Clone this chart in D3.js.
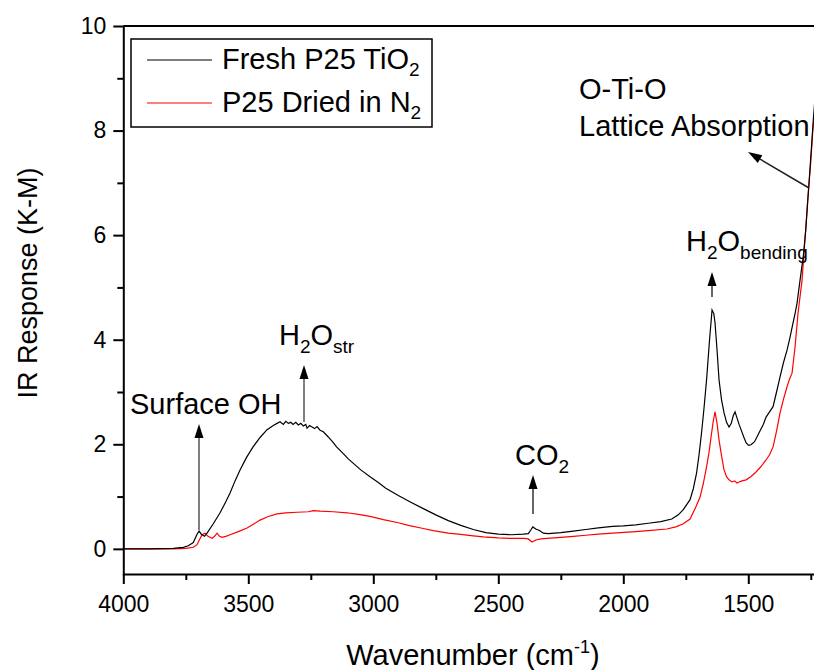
<!DOCTYPE html>
<html><head><meta charset="utf-8">
<script src="https://cdn.jsdelivr.net/npm/d3@7"></script>
<style>body{margin:0;background:#fff}svg{display:block}text{font-family:"Liberation Sans",Arial,sans-serif;fill:#000}</style>
</head><body><svg id="c" width="814" height="670"></svg>
<script>
// wavenumber (cm-1), K-M response
const freshWn = [4000,3900,3800,3760,3740,3720,3705,3697,3688,3675,3665,3640,3613,3590,3573,3553,3533,3507,3481,3453,3425,3400,3385,3373,3360,3350,3340,3330,3321,3310,3300,3290,3280,3270,3265,3255,3245,3235,3225,3213,3200,3180,3160,3147,3120,3100,3081,3050,3013,2980,2950,2900,2850,2800,2750,2700,2650,2600,2550,2500,2450,2400,2380,2370,2362,2350,2335,2320,2300,2250,2200,2150,2100,2043,2000,1950,1900,1850,1806,1780,1760,1733,1720,1707,1697,1687,1677,1667,1655,1645,1638,1633,1625,1617,1607,1597,1587,1577,1568,1560,1553,1545,1537,1529,1519,1509,1499,1489,1475,1457,1440,1429,1415,1401,1387,1373,1360,1345,1333,1321,1313,1305,1293,1280,1270,1260,1250,1240,1232];
const freshKM = [0,0,0.01,0.03,0.06,0.12,0.28,0.34,0.28,0.24,0.30,0.48,0.69,0.90,1.07,1.30,1.51,1.75,1.95,2.13,2.28,2.36,2.40,2.43,2.38,2.44,2.40,2.42,2.38,2.42,2.37,2.40,2.35,2.38,2.31,2.36,2.33,2.30,2.34,2.27,2.24,2.14,2.03,1.95,1.82,1.72,1.64,1.51,1.38,1.27,1.16,1.02,0.89,0.77,0.65,0.54,0.45,0.37,0.31,0.28,0.27,0.28,0.29,0.36,0.42,0.38,0.35,0.30,0.29,0.31,0.34,0.37,0.40,0.43,0.44,0.46,0.49,0.52,0.57,0.65,0.75,0.94,1.15,1.45,1.80,2.22,2.70,3.23,4.00,4.57,4.50,4.32,3.80,3.23,2.85,2.60,2.42,2.33,2.40,2.55,2.62,2.50,2.38,2.28,2.15,2.03,1.98,1.99,2.05,2.22,2.38,2.52,2.62,2.72,3.00,3.29,3.55,3.80,4.05,4.32,4.50,4.70,5.14,5.6,6.1,6.8,7.5,8.2,8.7];
const driedWn = [4000,3900,3800,3750,3720,3705,3695,3685,3673,3661,3645,3635,3625,3615,3605,3590,3573,3540,3505,3480,3453,3420,3385,3350,3305,3260,3240,3213,3160,3105,3060,3013,2960,2900,2860,2800,2760,2700,2660,2600,2560,2500,2450,2400,2380,2365,2350,2330,2305,2250,2200,2150,2100,2013,1950,1900,1826,1790,1760,1733,1710,1693,1680,1667,1657,1649,1640,1633,1625,1617,1607,1597,1587,1577,1565,1555,1545,1537,1525,1509,1490,1469,1450,1429,1415,1401,1387,1373,1360,1345,1335,1325,1313,1301,1285,1275,1262,1250,1242,1232];
const driedKM = [0,0,0,0.01,0.03,0.08,0.18,0.27,0.30,0.24,0.20,0.24,0.30,0.24,0.22,0.24,0.27,0.33,0.40,0.47,0.55,0.62,0.67,0.69,0.70,0.71,0.73,0.72,0.71,0.69,0.66,0.62,0.56,0.50,0.45,0.39,0.35,0.30,0.28,0.25,0.23,0.21,0.20,0.20,0.19,0.13,0.17,0.19,0.20,0.22,0.24,0.26,0.28,0.31,0.33,0.35,0.38,0.42,0.48,0.57,0.80,0.99,1.25,1.57,1.85,2.14,2.45,2.62,2.40,2.08,1.78,1.51,1.38,1.32,1.28,1.30,1.26,1.28,1.30,1.32,1.38,1.47,1.57,1.70,1.80,1.95,2.25,2.60,2.85,3.10,3.25,3.36,3.86,4.51,5.14,5.8,6.7,7.4,8.0,8.5];
const xMajor = [4000,3500,3000,2500,2000,1500];
const xMinor = [3750,3250,2750,2250,1750,1250];
const yMajor = [0,2,4,6,8,10];
const yMinor = [1,3,5,7,9];

const svg = d3.select("#c");
const L = 123.3, R = 823.3, T = 26, B = 575;
const x = d3.scaleLinear().domain([4000,1200]).range([L,R]);
const y = d3.scaleLinear().domain([-0.5,10]).range([B,T]);

svg.append("clipPath").attr("id","clip").append("rect").attr("x",L).attr("y",T).attr("width",R-L).attr("height",B-T);

const line = d3.line().x(d=>x(d[0])).y(d=>y(d[1]));
svg.append("path").datum(driedWn.map((w,i)=>[w,driedKM[i]])).attr("d",line).attr("fill","none").attr("stroke","#ff0000").attr("stroke-width",1.2).attr("clip-path","url(#clip)");
svg.append("path").datum(freshWn.map((w,i)=>[w,freshKM[i]])).attr("d",line).attr("fill","none").attr("stroke","#000").attr("stroke-width",1.2).attr("clip-path","url(#clip)");

// axes
svg.append("g").attr("transform",`translate(0,${B-1})`)
  .call(d3.axisBottom(x).tickValues(xMajor).tickSize(10).tickPadding(12).tickSizeOuter(0).tickFormat(d3.format("d")));
svg.append("g").attr("transform",`translate(0,${B-1})`)
  .call(d3.axisBottom(x).tickValues(xMinor).tickSize(6).tickSizeOuter(0).tickFormat(""))
  .select(".domain").remove();
svg.append("g").attr("transform",`translate(${L},0)`)
  .call(d3.axisLeft(y).tickValues(yMajor).tickSize(10).tickPadding(7).tickSizeOuter(0));
svg.append("g").attr("transform",`translate(${L},0)`)
  .call(d3.axisLeft(y).tickValues(yMinor).tickSize(6).tickSizeOuter(0).tickFormat(""))
  .select(".domain").remove();
svg.selectAll(".tick line").attr("stroke","#000").attr("stroke-width",2);
svg.selectAll(".domain").attr("stroke","#000").attr("stroke-width",2);
svg.selectAll(".tick text").attr("font-size",23).attr("font-family","Liberation Sans, Arial, sans-serif");
svg.append("line").attr("x1",L).attr("x2",R).attr("y1",T).attr("y2",T).attr("stroke","#000").attr("stroke-width",2);

// axis titles
const xt = svg.append("text").attr("x",473).attr("y",665).attr("text-anchor","middle").attr("font-size",29);
xt.append("tspan").text("Wavenumber (cm");
xt.append("tspan").attr("font-size",18).attr("dy",-12).text("-1");
xt.append("tspan").attr("dy",12).text(")");
svg.append("text").attr("transform","translate(37,283) rotate(-90)").attr("text-anchor","middle").attr("font-size",27).text("IR Response (K-M)");

// legend
svg.append("rect").attr("x",131).attr("y",39).attr("width",301).attr("height",88).attr("fill","#fff").attr("stroke","#000").attr("stroke-width",1.5);
svg.append("line").attr("x1",147).attr("x2",212).attr("y1",60).attr("y2",60).attr("stroke","#000").attr("stroke-width",1.2);
svg.append("line").attr("x1",147).attr("x2",212).attr("y1",103).attr("y2",103).attr("stroke","#ff0000").attr("stroke-width",1.2);
const l1 = svg.append("text").attr("x",222).attr("y",69).attr("font-size",29);
l1.append("tspan").text("Fresh P25 TiO");
l1.append("tspan").attr("font-size",19).attr("dy",7).text("2");
const l2 = svg.append("text").attr("x",222).attr("y",112).attr("font-size",29);
l2.append("tspan").text("P25 Dried in N");
l2.append("tspan").attr("font-size",19).attr("dy",7).text("2");

// annotations
svg.append("text").attr("x",130).attr("y",414).attr("font-size",29).text("Surface OH");
function sub(xp,yp,a,s,b,s2){
  const t = svg.append("text").attr("x",xp).attr("y",yp).attr("font-size",29);
  t.append("tspan").text(a);
  t.append("tspan").attr("font-size",19).attr("dy",8).text(s);
  if(b!==undefined){
    t.append("tspan").attr("dy",-8).text(b);
    if(s2) t.append("tspan").attr("font-size",19).attr("dy",8).text(s2);
  }
}
sub(279,345,"H","2","O","str");
sub(515,465,"CO","2");
sub(686,251,"H","2","O","bending");
svg.append("text").attr("x",579).attr("y",99).attr("font-size",29).text("O-Ti-O");
svg.append("text").attr("x",579).attr("y",136).attr("font-size",29).text("Lattice Absorption");

// arrows
function arrow(x1,y1,x2,y2,col){
  const ang = Math.atan2(y2-y1,x2-x1), len=14, w=4.5;
  const bx = x2-len*Math.cos(ang), by = y2-len*Math.sin(ang);
  svg.append("line").attr("x1",x1).attr("y1",y1).attr("x2",bx).attr("y2",by).attr("stroke",col).attr("stroke-width",1.5);
  const px = -Math.sin(ang)*w, py = Math.cos(ang)*w;
  svg.append("path").attr("d",`M${x2},${y2}L${bx+px},${by+py}L${bx-px},${by-py}Z`).attr("fill","#000");
}
arrow(199,530,199,424,"#555");
arrow(304,422,304,365,"#555");
arrow(533,514,533,475,"#333");
arrow(712,297,712,272,"#333");
arrow(809,188,748,152,"#222");
</script></body></html>
